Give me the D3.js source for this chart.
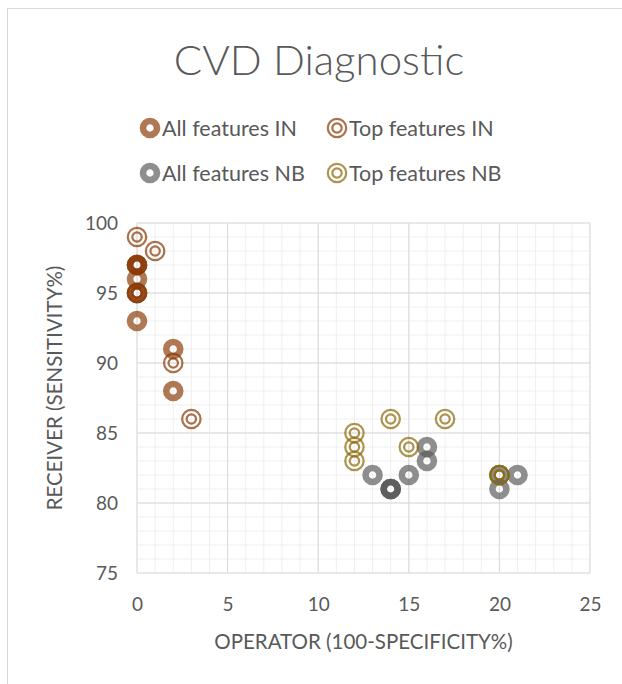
<!DOCTYPE html>
<html>
<head>
<meta charset="utf-8">
<script src="https://cdn.jsdelivr.net/npm/d3@7"></script>
<style>
  body { margin: 0; background: #fff; }
  text { font-family: Lato, "Open Sans", sans-serif; fill: #595959; }
</style>
</head>
<body>
<div id="chart"></div>
<script>
// series values: [operator, receiver]
let allIN = [[0, 97], [0, 97], [0, 97], [0, 96], [0, 95], [0, 95], [0, 93], [2, 91], [2, 88]];
let topIN = [[0, 99], [1, 98], [0, 95], [2, 90], [3, 86]];
let allNB = [[13, 82], [14, 81], [14, 81], [14, 81], [15, 82], [16, 84], [16, 83], [20, 82], [20, 81], [21, 82]];
let topNB = [[12, 85], [12, 84], [12, 83], [14, 86], [15, 84], [17, 86], [20, 82], [20, 82]];

let xTicks = [0, 5, 10, 15, 20, 25];
let yTicks = [75, 80, 85, 90, 95, 100];
let seriesNames = ["All features IN", "Top features IN", "All features NB", "Top features NB"];

let W = 622, H = 684;
let margin = { top: 223, right: 32, bottom: 111, left: 137 };
let width = W - margin.left - margin.right, height = H - margin.top - margin.bottom;

let svg = d3.select("#chart").append("svg").attr("width", W).attr("height", H);

// chart frame
svg.append("rect").attr("x", 7.5).attr("y", 8.5).attr("width", W + 20).attr("height", H + 20)
    .attr("fill", "none").attr("stroke", "#d9d9d9");

svg.append("text").attr("x", 319).attr("y", 75).attr("text-anchor", "middle")
    .style("font-size", "42px").style("font-weight", 300).text("CVD Diagnostic");

let g = svg.append("g").attr("transform", `translate(${margin.left},${margin.top})`);

let x = d3.scaleLinear().domain([0, 25]).range([0, width]);
let y = d3.scaleLinear().domain([75, 100]).range([height, 0]);

// minor grid
g.append("g").selectAll("line").data(d3.range(0, 26)).enter().append("line")
    .attr("x1", d => x(d)).attr("x2", d => x(d)).attr("y1", 0).attr("y2", height)
    .attr("stroke", "#efefef");
g.append("g").selectAll("line").data(d3.range(75, 101)).enter().append("line")
    .attr("y1", d => y(d)).attr("y2", d => y(d)).attr("x1", 0).attr("x2", width)
    .attr("stroke", "#efefef");

// major grid
g.append("g").selectAll("line").data(xTicks).enter().append("line")
    .attr("x1", d => x(d)).attr("x2", d => x(d)).attr("y1", 0).attr("y2", height)
    .attr("stroke", "#d9d9d9");
g.append("g").selectAll("line").data(yTicks).enter().append("line")
    .attr("y1", d => y(d)).attr("y2", d => y(d)).attr("x1", 0).attr("x2", width)
    .attr("stroke", "#d9d9d9");

let xAxis = g.append("g").attr("transform", `translate(0,${height})`)
    .call(d3.axisBottom(x).tickValues(xTicks).tickSize(0).tickPadding(25));
let yAxis = g.append("g").call(d3.axisLeft(y).tickValues(yTicks).tickSize(0).tickPadding(19));
[xAxis, yAxis].forEach(a => {
    a.select(".domain").remove();
    a.selectAll("text").style("font-size", "19px").style("font-family", "Lato, sans-serif").attr("fill", "#595959");
});

svg.append("text").attr("x", margin.left + width / 2).attr("y", 649).attr("text-anchor", "middle")
    .style("font-size", "20.5px").text("OPERATOR (100-SPECIFICITY%)");
svg.append("text").attr("transform", "rotate(-90)").attr("x", -(margin.top + height / 2) + 10).attr("y", 62)
    .attr("text-anchor", "middle").style("font-size", "20.5px").text("RECEIVER (SENSITIVITY%)");

let brown = "#8a3a06", gray = "#595959", gold = "#8c6a0a";

function solid(sel, color) {
    sel.append("circle").attr("r", 7).attr("fill", "none")
        .attr("stroke", color).attr("stroke-width", 6.6).attr("stroke-opacity", 0.68);
}
function double(sel, color) {
    sel.append("circle").attr("r", 9.2).attr("fill", "none")
        .attr("stroke", color).attr("stroke-width", 2.2).attr("stroke-opacity", 0.72);
    sel.append("circle").attr("r", 4.7).attr("fill", "none")
        .attr("stroke", color).attr("stroke-width", 2.2).attr("stroke-opacity", 0.72);
}

let series = [
    { data: allIN, draw: solid, color: brown },
    { data: allNB, draw: solid, color: gray },
    { data: topIN, draw: double, color: brown },
    { data: topNB, draw: double, color: gold }
];

series.forEach(s => {
    g.append("g").selectAll("g").data(s.data).enter().append("g")
        .attr("transform", d => `translate(${x(d[0])},${y(d[1])})`)
        .each(function () { s.draw(d3.select(this), s.color); });
});

// legend
let legendItems = [
    { name: seriesNames[0], draw: solid, color: brown, lx: 150, ly: 128 },
    { name: seriesNames[1], draw: double, color: brown, lx: 337, ly: 128 },
    { name: seriesNames[2], draw: solid, color: gray, lx: 150, ly: 173 },
    { name: seriesNames[3], draw: double, color: gold, lx: 337, ly: 173 }
];
legendItems.forEach(l => {
    let lg = svg.append("g").attr("transform", `translate(${l.lx},${l.ly})`);
    l.draw(lg, l.color);
    lg.append("text").attr("x", 12).attr("y", 7.5).style("font-size", "21.5px").text(l.name);
});
</script>
</body>
</html>
